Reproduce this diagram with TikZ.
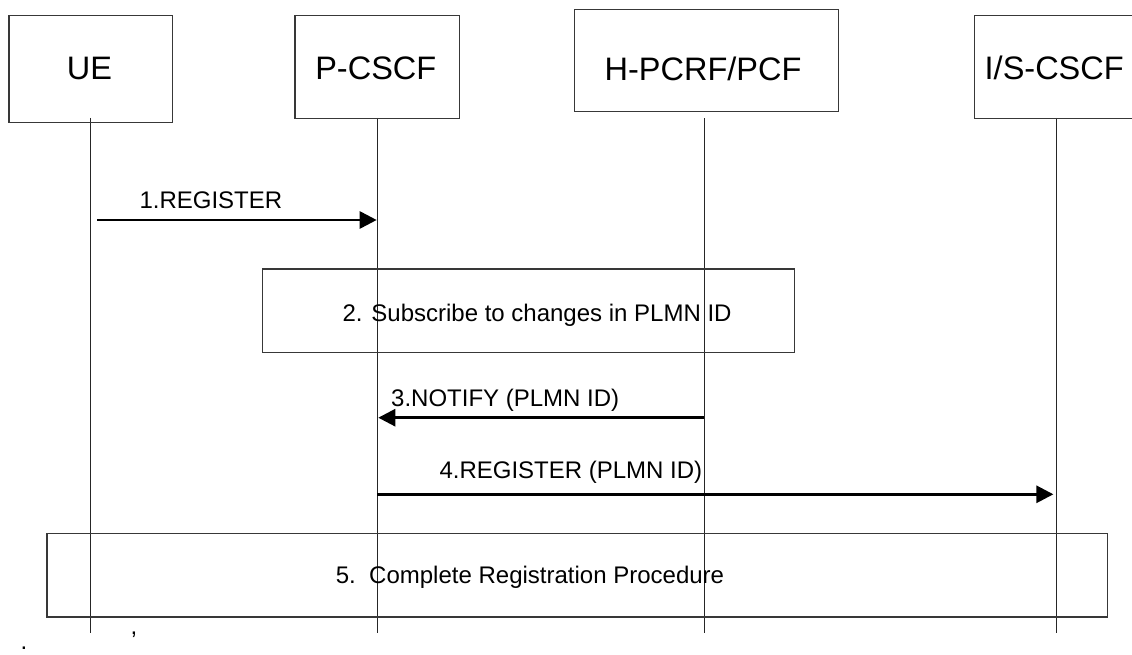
\documentclass[tikz,border=0pt]{standalone}
\usepackage{fontspec}
\setmainfont{Liberation Sans}
\usetikzlibrary{arrows.meta}
\begin{document}
\begin{tikzpicture}[x=1pt,y=-1pt,
  hdrbox/.style={draw=black!78, line width=1.1pt, inner sep=0pt},
  lifeline/.style={draw=black!85, line width=1pt},
  msg/.style={draw=black, line width=2.8pt, -{Triangle[length=17pt,width=17pt]}},
  hdrtext/.style={font=\fontsize{32.5}{36}\selectfont, anchor=base, inner sep=0pt},
  msgtext/.style={font=\fontsize{24}{28}\selectfont, anchor=base west, inner sep=0pt}]
\useasboundingbox (0,0) rectangle (1132,655);
\fill[white] (0,0) rectangle (1132,655);
\clip (0,0) rectangle (1132,655);

% lifelines
\coordinate (ueT) at (90.7,118);   \coordinate (ueB) at (90.7,632.7);
\coordinate (pcT) at (377.2,118);  \coordinate (pcB) at (377.2,632.7);
\coordinate (hpT) at (704.3,118.3);\coordinate (hpB) at (704.3,632.7);
\coordinate (isT) at (1056.3,118); \coordinate (isB) at (1056.3,632.7);
\draw[lifeline] (ueT) -- (ueB);
\draw[lifeline] (pcT) -- (pcB);
\draw[lifeline] (hpT) -- (hpB);
\draw[lifeline] (isT) -- (isB);

% header boxes
\node[hdrbox, minimum width=163.7pt, minimum height=107pt] (ue) at (90.85,69.2) {};
\node[hdrtext] (uet) at (89.5,80) {UE};
\node[hdrbox, minimum width=164.3pt, minimum height=102.6pt] (pc) at (377.15,67) {};
\node[hdrtext] (pct) at (375.8,80) {P-CSCF};
\node[hdrbox, minimum width=264pt, minimum height=102.4pt] (hp) at (706.3,60.5) {};
\node[hdrtext] (hpt) at (703,80.5) {H-PCRF/PCF};
\node[hdrbox, minimum width=164pt, minimum height=102.6pt] (is) at (1056.3,67) {};
\node[hdrtext] (ist) at (1054.2,80) {I/S-CSCF};

% 1. REGISTER
\coordinate (a1s) at (97.3,220);
\coordinate (a1e) at (376.7,220);
\draw[msg] (a1s) -- (a1e);
\node[msgtext] (l1) at (139.3,208.3) {1.REGISTER};

% 2. Subscribe box
\node[hdrbox, minimum width=531.7pt, minimum height=83.7pt] (sub) at (528.3,310.85) {};
\node[msgtext] (subt) at (342.3,321) {2. Subscribe to changes in PLMN ID};

% 3. NOTIFY
\coordinate (a3s) at (704.3,417.7);
\coordinate (a3e) at (378.3,417.7);
\draw[msg] (a3s) -- (a3e);
\node[msgtext] (l3) at (391,406) {3.NOTIFY (PLMN ID)};

% 4. REGISTER (PLMN ID)
\coordinate (a4s) at (377.2,494.3);
\coordinate (a4e) at (1053.4,494.3);
\draw[msg] (a4s) -- (a4e);
\node[msgtext] (l4) at (439.3,478.3) {4.REGISTER (PLMN ID)};

% 5. Complete Registration Procedure box
\node[hdrbox, minimum width=1060.5pt, minimum height=83.7pt] (reg) at (577.25,575.15) {};
\node[msgtext] (regt) at (335.7,583.3) {5.\ \ Complete Registration Procedure};

% stray marks
\node[msgtext] (dot) at (20.5,649.5) {.};
\node[msgtext] (comma) at (130.5,634.5) {,};
\end{tikzpicture}
\end{document}
